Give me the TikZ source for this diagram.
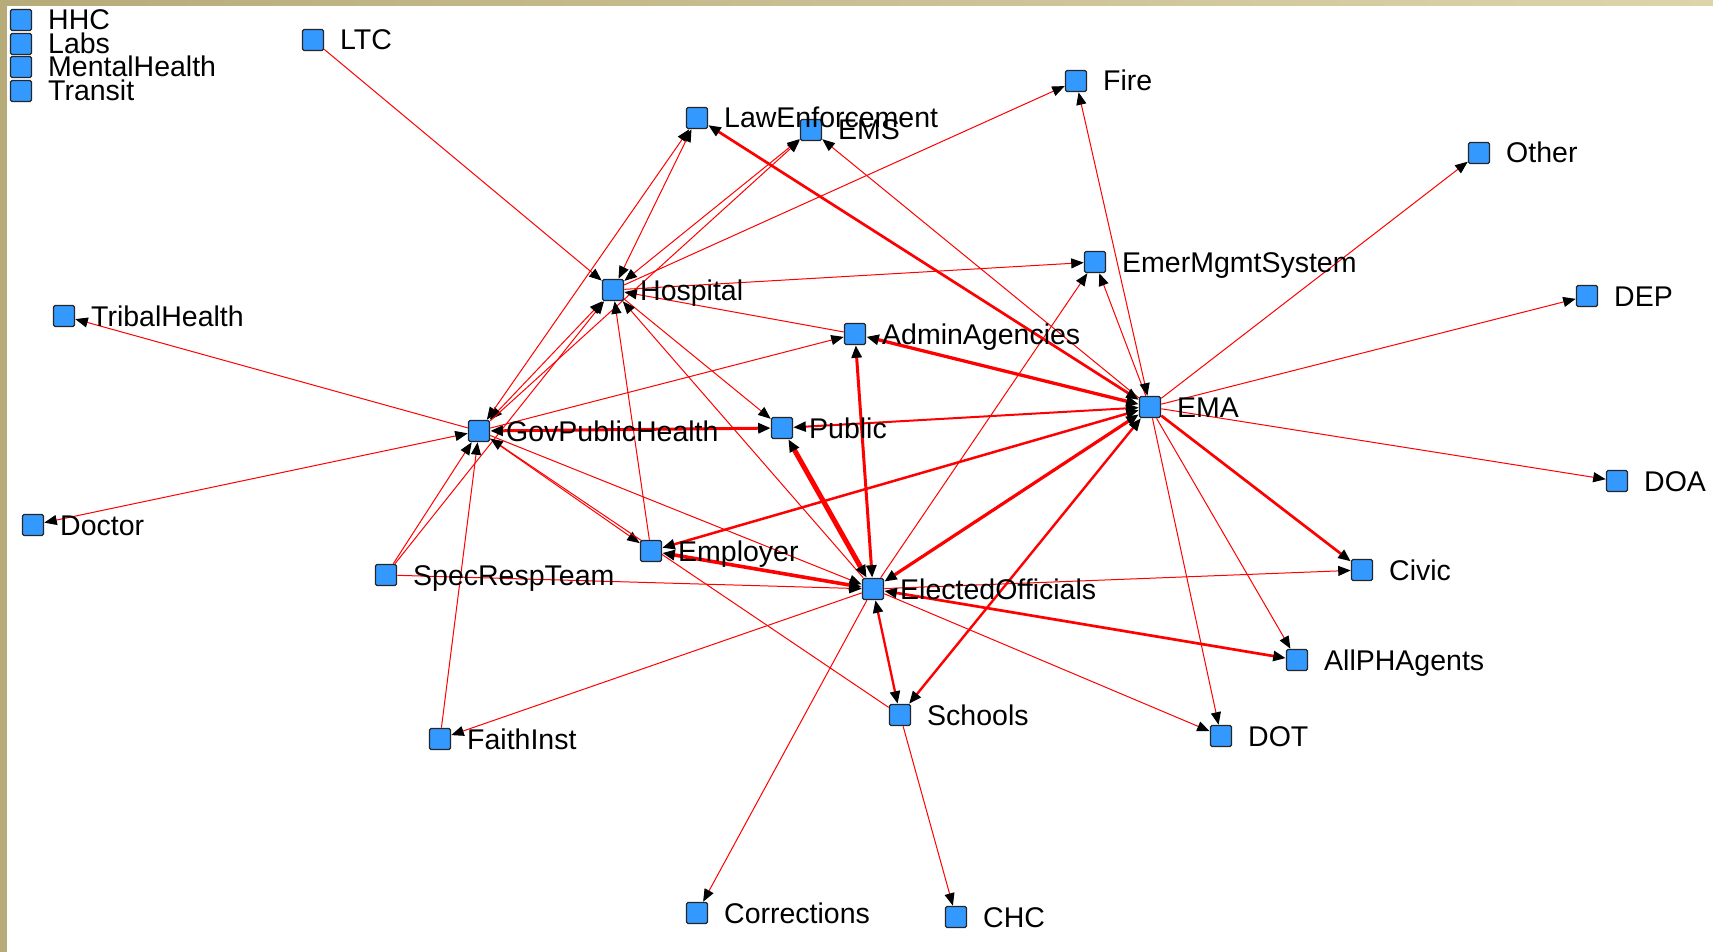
\documentclass[tikz,border=0pt]{standalone}
\usepackage{fontspec}
\setmainfont{Liberation Sans}
\usetikzlibrary{arrows.meta,calc}
\pgfdeclarelayer{bg}
\pgfsetlayers{bg,main}
\definecolor{nodeblue}{RGB}{51,153,255}
\definecolor{tanA}{RGB}{183,171,122}
\definecolor{tanB}{RGB}{222,212,172}
\definecolor{edgered}{RGB}{255,0,0}
\tikzset{
  sq/.style={shape=rectangle, draw=black!85, fill=nodeblue, line width=1.2pt,
    minimum size=21pt, inner sep=0pt, outer sep=0.8pt, rounded corners=1.5pt},
  lbl/.style={anchor=base west, inner sep=0pt, text=black,
    font=\fontsize{28.5}{30}\selectfont},
  lnk/.style={draw=edgered, line width=#1},
  lnk/.default=1pt,
  >={Triangle[length=12.5pt,width=10pt,color=black]},
}
\newcommand\sqnode[3]{\node[sq] (#1) at (#2,#3) {};}
\newcommand\sqlabel[2]{\node[lbl] (#1-t) at ($(#1.center)+(27,10)$) {#2};}
\begin{document}
\begin{tikzpicture}[x=1pt,y=-1pt]
\useasboundingbox (0,0) rectangle (1713,952);
% nodes
\sqnode{HHC}{21}{20}
\sqnode{Labs}{21}{44}
\sqnode{MH}{21}{67}
\sqnode{Tr}{21}{91}
\sqnode{LTC}{313}{40}
\sqnode{LE}{697}{118}
\sqnode{EMS}{811}{130}
\sqnode{Fire}{1076}{81}
\sqnode{Oth}{1479}{153}
\sqnode{EmS}{1095}{262}
\sqnode{DEP}{1587}{296}
\sqnode{Hosp}{613}{290}
\sqnode{TH}{64}{316}
\sqnode{AA}{855}{334}
\sqnode{EMA}{1150}{407}
\sqnode{GPH}{479}{431}
\sqnode{Pub}{782}{428}
\sqnode{DOA}{1617}{481}
\sqnode{Doc}{33}{525}
\sqnode{Emp}{651}{551}
\sqnode{SRT}{386}{575}
\sqnode{EO}{873}{589}
\sqnode{Civ}{1362}{570}
\sqnode{APH}{1297}{660}
\sqnode{Sch}{900}{715}
\sqnode{FI}{440}{739}
\sqnode{DOT}{1221}{736}
\sqnode{Cor}{697}{913}
\sqnode{CHC}{956}{917}
% labels
\sqlabel{HHC}{HHC}
\sqlabel{Labs}{Labs}
\sqlabel{MH}{MentalHealth}
\sqlabel{Tr}{Transit}
\sqlabel{LTC}{LTC}
\sqlabel{LE}{LawEnforcement}
\sqlabel{EMS}{EMS}
\sqlabel{Fire}{Fire}
\sqlabel{Oth}{Other}
\sqlabel{EmS}{EmerMgmtSystem}
\sqlabel{DEP}{DEP}
\sqlabel{Hosp}{Hospital}
\sqlabel{TH}{TribalHealth}
\sqlabel{AA}{AdminAgencies}
\sqlabel{EMA}{EMA}
\sqlabel{GPH}{GovPublicHealth}
\sqlabel{Pub}{Public}
\sqlabel{DOA}{DOA}
\sqlabel{Doc}{Doctor}
\sqlabel{Emp}{Employer}
\sqlabel{SRT}{SpecRespTeam}
\sqlabel{EO}{ElectedOfficials}
\sqlabel{Civ}{Civic}
\sqlabel{APH}{AllPHAgents}
\sqlabel{Sch}{Schools}
\sqlabel{FI}{FaithInst}
\sqlabel{DOT}{DOT}
\sqlabel{Cor}{Corrections}
\sqlabel{CHC}{CHC}
\begin{pgfonlayer}{bg}
\fill[white] (0,0) rectangle (1713,952);
\shade[left color=tanA, right color=tanB] (0,0) rectangle (1713,6);
\fill[tanA] (0,0) rectangle (7,952);
% thin edges
\draw[lnk,->] (LTC) -- (Hosp);
\draw[lnk,->] (GPH) -- (TH);
\draw[lnk,<->] (Doc) -- (GPH);
\draw[lnk,->] (SRT) -- (GPH);
\draw[lnk,->] (SRT) -- (Hosp);
\draw[lnk,->] (FI) -- (GPH);
\draw[lnk,->] (EO) -- (FI);
\draw[lnk,->] (SRT) -- (EO);
\draw[lnk,->] (GPH) -- (AA);
\draw[lnk,->] (GPH) -- (Emp);
\draw[lnk,->] (Sch) -- (GPH);
\draw[lnk,->] (GPH) -- (EO);
\draw[lnk,<->] (GPH) -- (Hosp);
\draw[lnk,<->] (GPH) -- (LE);
\draw[lnk,->] (GPH) -- (EMS);
\draw[lnk,<->] (Hosp) -- (LE);
\draw[lnk,<->] (Hosp) -- (EMS);
\draw[lnk,->] (Hosp) -- (Fire);
\draw[lnk,->] (Hosp) -- (EmS);
\draw[lnk,->] (AA) -- (Hosp);
\draw[lnk,->] (Hosp) -- (Pub);
\draw[lnk,->] (EO) -- (Hosp);
\draw[lnk,->] (Emp) -- (Hosp);
\draw[lnk,->] (EO) -- (Civ);
\draw[lnk,->] (EO) -- (DOT);
\draw[lnk,->] (EO) -- (Cor);
\draw[lnk,->] (EMA) -- (EMS);
\draw[lnk,->] (EO) -- (EmS);
\draw[lnk,->] (EMA) -- (EmS);
\draw[lnk,<->] (Fire) -- (EMA);
\draw[lnk,->] (EMA) -- (Oth);
\draw[lnk,->] (EMA) -- (DEP);
\draw[lnk,->] (EMA) -- (DOA);
\draw[lnk,->] (EMA) -- (APH);
\draw[lnk,->] (EMA) -- (DOT);
\draw[lnk,->] (Sch) -- (CHC);
% heavier edges
\draw[lnk=3pt,<->] (GPH) -- (Pub);
\draw[lnk=5pt,<->] (Pub) -- (EO);
\draw[lnk=3pt,<->] (AA) -- (EO);
\draw[lnk=3.6pt,<->] (Emp) -- (EO);
\draw[lnk=3.2pt,<->] (EMA) -- (EO);
\draw[lnk=2.5pt,<->] (EMA) -- (Emp);
\draw[lnk=2.3pt,<->] (EO) -- (Sch);
\draw[lnk=2.4pt,<->] (EMA) -- (Sch);
\draw[lnk=2.7pt,<->] (EO) -- (APH);
\draw[lnk=2.7pt,->] (EMA) -- (Civ);
\draw[lnk=2.7pt,<->] (EMA) -- (LE);
\draw[lnk=3.3pt,<->] (EMA) -- (AA);
\draw[lnk=2pt,<->] (EMA) -- (Pub);
\end{pgfonlayer}
\end{tikzpicture}
\end{document}
